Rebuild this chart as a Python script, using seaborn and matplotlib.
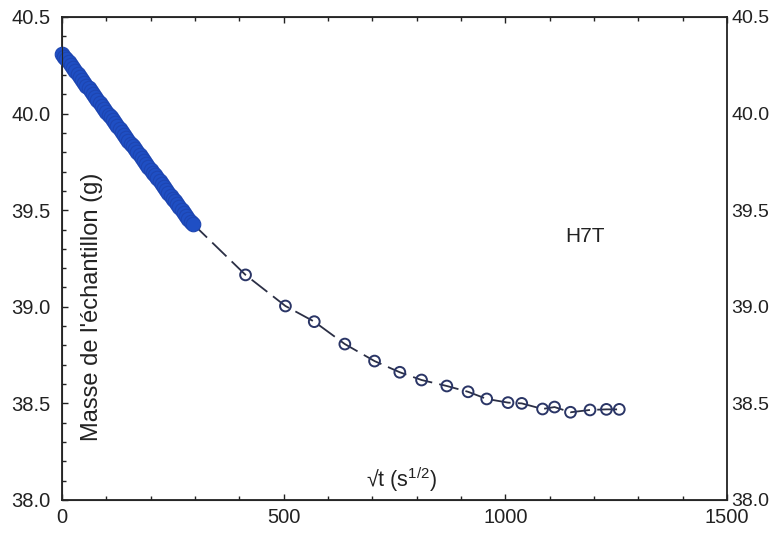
import numpy as np
import pandas as pd
import matplotlib
matplotlib.use("Agg")
import matplotlib.pyplot as plt
from matplotlib.ticker import MultipleLocator
import seaborn as sns

# dense early measurements (sqrt(t), mass)
sqrt_t_dense = [0, 5, 10, 15, 20, 25, 30, 35, 40, 45, 50, 55, 60, 65, 70, 75,
                80, 85, 90, 95, 100, 105, 110, 115, 120, 125, 130, 135, 140,
                145, 150, 155, 160, 165, 170, 175, 180, 185, 190, 195, 200,
                205, 210, 215, 220, 225, 230, 235, 240, 245, 250, 255, 260,
                265, 270, 275, 280, 285, 290, 295]
masse_dense = [40.310, 40.295, 40.280, 40.265, 40.250, 40.235, 40.220, 40.205,
               40.190, 40.175, 40.160, 40.145, 40.130, 40.115, 40.100, 40.085,
               40.070, 40.055, 40.040, 40.025, 40.010, 39.995, 39.980, 39.965,
               39.950, 39.935, 39.920, 39.905, 39.890, 39.875, 39.860, 39.845,
               39.830, 39.815, 39.800, 39.785, 39.770, 39.755, 39.740, 39.725,
               39.710, 39.695, 39.680, 39.665, 39.650, 39.635, 39.620, 39.605,
               39.590, 39.575, 39.560, 39.545, 39.530, 39.515, 39.500, 39.485,
               39.470, 39.455, 39.440, 39.430]

# later measurements (open circles)
sqrt_t_late = [414, 504, 569, 638, 705, 762, 811, 868, 916, 958, 1006, 1037,
               1084, 1111, 1147, 1191, 1228, 1257]
masse_late = [39.165, 39.004, 38.923, 38.807, 38.719, 38.661, 38.621, 38.590,
              38.560, 38.523, 38.504, 38.500, 38.471, 38.481, 38.454, 38.466,
              38.469, 38.469]

x_ticks = [0, 500, 1000, 1500]
y_ticks = [38.0, 38.5, 39.0, 39.5, 40.0, 40.5]

df_dense = pd.DataFrame({"x": sqrt_t_dense, "y": masse_dense})
df_late = pd.DataFrame({"x": sqrt_t_late, "y": masse_late})
df_line = pd.DataFrame({"x": [sqrt_t_dense[-1]] + sqrt_t_late,
                        "y": [masse_dense[-1]] + masse_late})

sns.set_style("ticks")
plt.rcParams["font.family"] = ["Liberation Sans", "DejaVu Sans"]
plt.rcParams["mathtext.default"] = "regular"

fig = plt.figure(figsize=(7.73, 5.34), dpi=100)
ax = fig.add_axes([0.0802, 0.0637, 0.8603, 0.9045])

sns.lineplot(data=df_line, x="x", y="y", ax=ax, sort=False, color="#2b2f45",
             linewidth=1.3, linestyle=(0, (11, 4)))
sns.scatterplot(data=df_late, x="x", y="y", ax=ax, marker="o", s=60,
                facecolor="none", edgecolor="#2a3566", linewidth=1.4, zorder=3)
sns.scatterplot(data=df_dense, x="x", y="y", ax=ax, marker="o", s=110,
                color="#1f4fc4", edgecolor="#1d45b0", linewidth=0.8, zorder=4,
                clip_on=False)

ax.set_xlim(0, 1500)
ax.set_ylim(38.0, 40.5)
ax.set_xticks(x_ticks)
ax.set_yticks(y_ticks)
ax.set_yticklabels([f"{v:.1f}" for v in y_ticks])
ax.xaxis.set_minor_locator(MultipleLocator(100))
ax.yaxis.set_minor_locator(MultipleLocator(0.1))
ax.tick_params(which="both", direction="in", top=True, right=True,
               labelsize=14.5, colors="#222222")
ax.tick_params(which="major", length=4, width=1.0)
ax.tick_params(which="minor", length=3, width=1.0)
ax.tick_params(axis="y", pad=8)
ax.tick_params(axis="x", pad=6)
for s in ax.spines.values():
    s.set_linewidth(1.3)
    s.set_color("#222222")

# right-hand copy of the y labels, close to the spine
ax_r = ax.twinx()
ax_r.set_ylim(38.0, 40.5)
ax_r.set_yticks(y_ticks)
ax_r.set_yticklabels([f"{v:.1f}" for v in y_ticks])
ax_r.tick_params(axis="y", length=0, pad=3, labelsize=14, colors="#222222")
ax_r.spines["right"].set_visible(False)
ax_r.set_ylabel("")

ax.set_xlabel("")
ax.set_ylabel("")
ax.text(0.0447, 0.40, "Masse de l'échantillon (g)", transform=ax.transAxes,
        rotation=90, ha="center", va="center", fontsize=17, color="#222222")
ax.text(765, 38.03, "√t (s$^{1/2}$)", ha="center", va="bottom",
        fontsize=15.5, color="#222222")
ax.text(1180, 39.366, "H7T", ha="center", va="center", fontsize=15,
        color="#222222")

fig.savefig("out.png", dpi=100)
